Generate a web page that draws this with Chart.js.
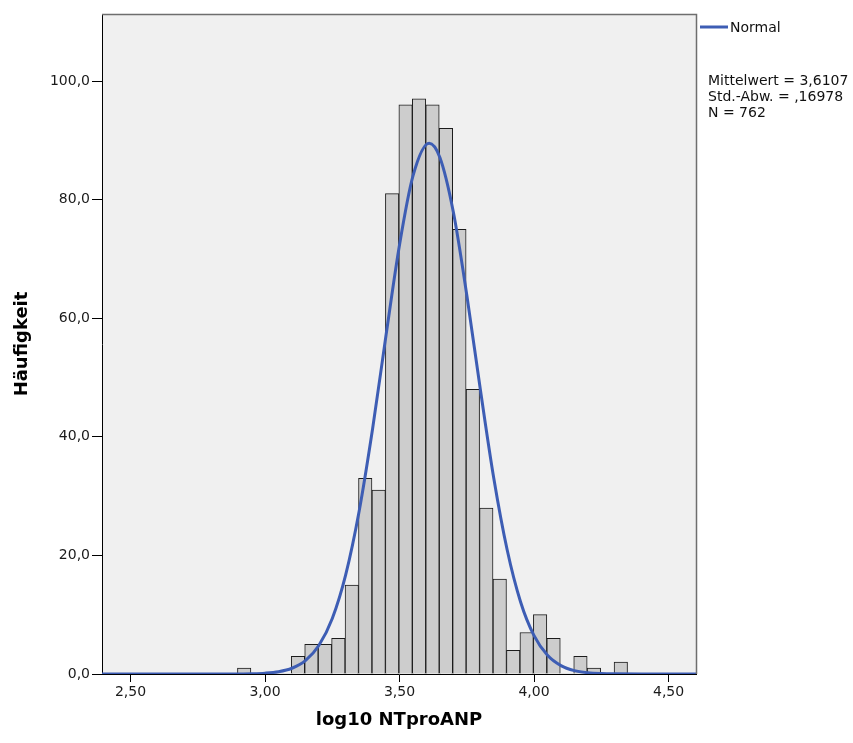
<!DOCTYPE html>
<html><head><meta charset="utf-8">
<script src="https://cdn.jsdelivr.net/npm/chart.js@4.4.1/dist/chart.umd.min.js"></script>
<style>html,body{margin:0;padding:0;background:#fff;overflow:hidden}</style>
</head><body>
<canvas id="c" width="853" height="743"></canvas>
<script>
// Histogram bins (centre of each 0.05-wide bin) and counts
const binCenters = [2.9225, 2.9725, 3.0225, 3.0725, 3.1225, 3.1725, 3.2225, 3.2725, 3.3225, 3.3725,
  3.4225, 3.4725, 3.5225, 3.5725, 3.6225, 3.6725, 3.7225, 3.7725, 3.8225, 3.8725,
  3.9225, 3.9725, 4.0225, 4.0725, 4.1225, 4.1725, 4.2225, 4.2725, 4.3225];
const binCounts = [1, 0, 0, 0, 3, 5, 5, 6, 15, 33,
  31, 81, 96, 97, 96, 92, 75, 48, 28, 16,
  4, 7, 10, 6, 0, 3, 1, 0, 2];

// Normal curve
const curveX = [2.394, 2.60, 2.80, 2.90, 2.95, 3.00, 3.05, 3.10, 3.15, 3.20, 3.25, 3.30, 3.35, 3.40, 3.45,
  3.50, 3.55, 3.61, 3.65, 3.70, 3.75, 3.80, 3.85, 3.90, 3.95, 4.00, 4.05, 4.10, 4.15, 4.20, 4.25, 4.30, 4.40, 4.602];
const curveY = [0, 0, 0.001, 0.014, 0.046, 0.139, 0.383, 0.97, 2.25, 4.80, 9.37, 16.77, 27.5, 41.4, 57.2,
  72.4, 84.0, 89.5, 87.1, 77.9, 63.9, 48.1, 33.1, 20.95, 12.15, 6.46, 3.15, 1.41, 0.576, 0.217, 0.075, 0.024, 0.002, 0];

const xTickValues = [2.5, 3.0, 3.5, 4.0, 4.5];
const yTickValues = [0, 20, 40, 60, 80, 100];
const xTitle = 'log10 NTproANP';
const yTitle = 'Häufigkeit';
const legendLabel = 'Normal';
const statsLines = ['Mittelwert = 3,6107', 'Std.-Abw. = ,16978', 'N = 762'];

const BLUE = '#3d5db4';
const FONT = 'DejaVu Sans';

const histData = binCenters.map((x, i) => ({x: x, y: binCounts[i]}));
const curveData = curveX.map((x, i) => ({x: x, y: curveY[i]}));

const bgPlugin = {
  id: 'bg',
  beforeDraw(chart) {
    const {ctx, chartArea: a} = chart;
    ctx.save();
    ctx.fillStyle = '#f0f0f0';
    ctx.fillRect(a.left, a.top, a.right - a.left, a.bottom - a.top);
    ctx.restore();
  },
  afterDraw(chart) {
    const {ctx, chartArea: a} = chart;
    ctx.save();
    ctx.strokeStyle = '#6e6e6e';
    ctx.lineWidth = 1.5;
    ctx.beginPath();
    ctx.moveTo(a.left, a.top + 0.5);
    ctx.lineTo(a.right + 0.5, a.top + 0.5);
    ctx.lineTo(a.right + 0.5, a.bottom);
    ctx.stroke();
    // legend
    ctx.strokeStyle = BLUE;
    ctx.lineWidth = 3;
    ctx.beginPath();
    ctx.moveTo(a.right + 4, 27);
    ctx.lineTo(a.right + 32, 27);
    ctx.stroke();
    ctx.fillStyle = '#111';
    ctx.font = '14px "' + FONT + '"';
    ctx.textBaseline = 'middle';
    ctx.textAlign = 'left';
    ctx.fillText(legendLabel, a.right + 34, 28);
    statsLines.forEach((s, i) => ctx.fillText(s, a.right + 12, 81 + i * 16));
    ctx.restore();
  }
};

new Chart(document.getElementById('c'), {
  type: 'bar',
  data: {
    datasets: [
      {
        type: 'line',
        data: curveData,
        borderColor: BLUE,
        borderWidth: 3,
        pointRadius: 0,
        fill: false,
        cubicInterpolationMode: 'monotone',
        order: 0
      },
      {
        type: 'bar',
        data: histData,
        backgroundColor: '#cdcdcd',
        borderColor: '#1c1c1c',
        borderWidth: ctx => (ctx.raw && ctx.raw.y > 0) ? 1 : 0,
        barPercentage: 1,
        categoryPercentage: 1,
        order: 1
      }
    ]
  },
  options: {
    responsive: false,
    animation: false,
    devicePixelRatio: 1,
    layout: {padding: {left: 0, top: 14, right: 157, bottom: 0}},
    plugins: {legend: {display: false}, tooltip: {enabled: false}},
    scales: {
      x: {
        type: 'linear',
        offset: false,
        min: 2.394,
        max: 4.602,
        afterFit(s) { s.height = 69; },
        afterBuildTicks(s) { s.ticks = xTickValues.map(v => ({value: v})); },
        grid: {offset: false, drawOnChartArea: false, drawTicks: true, tickLength: 8, color: '#000', tickColor: '#000'},
        border: {display: true, color: '#000', width: 1},
        ticks: {
          color: '#1a1a1a', font: {family: FONT, size: 14}, padding: 2, maxRotation: 0,
          callback: v => v.toFixed(2).replace('.', ',')
        },
        title: {display: true, text: xTitle, color: '#000', font: {family: FONT, size: 18, weight: 'bold'}, padding: {top: 0, bottom: 12}}
      },
      y: {
        min: 0,
        max: 111.3,
        afterFit(s) { s.width = 102; },
        afterBuildTicks(s) { s.ticks = yTickValues.map(v => ({value: v})); },
        grid: {drawOnChartArea: false, drawTicks: true, tickLength: 10, color: '#000', tickColor: '#000'},
        border: {display: true, color: '#000', width: 1},
        ticks: {
          color: '#1a1a1a', font: {family: FONT, size: 14}, padding: 2,
          callback: v => v.toFixed(1).replace('.', ',')
        },
        title: {display: true, text: yTitle, color: '#000', font: {family: FONT, size: 18, weight: 'bold'}, padding: {top: 12, bottom: 0}}
      }
    }
  },
  plugins: [bgPlugin]
});
</script>
</body></html>
